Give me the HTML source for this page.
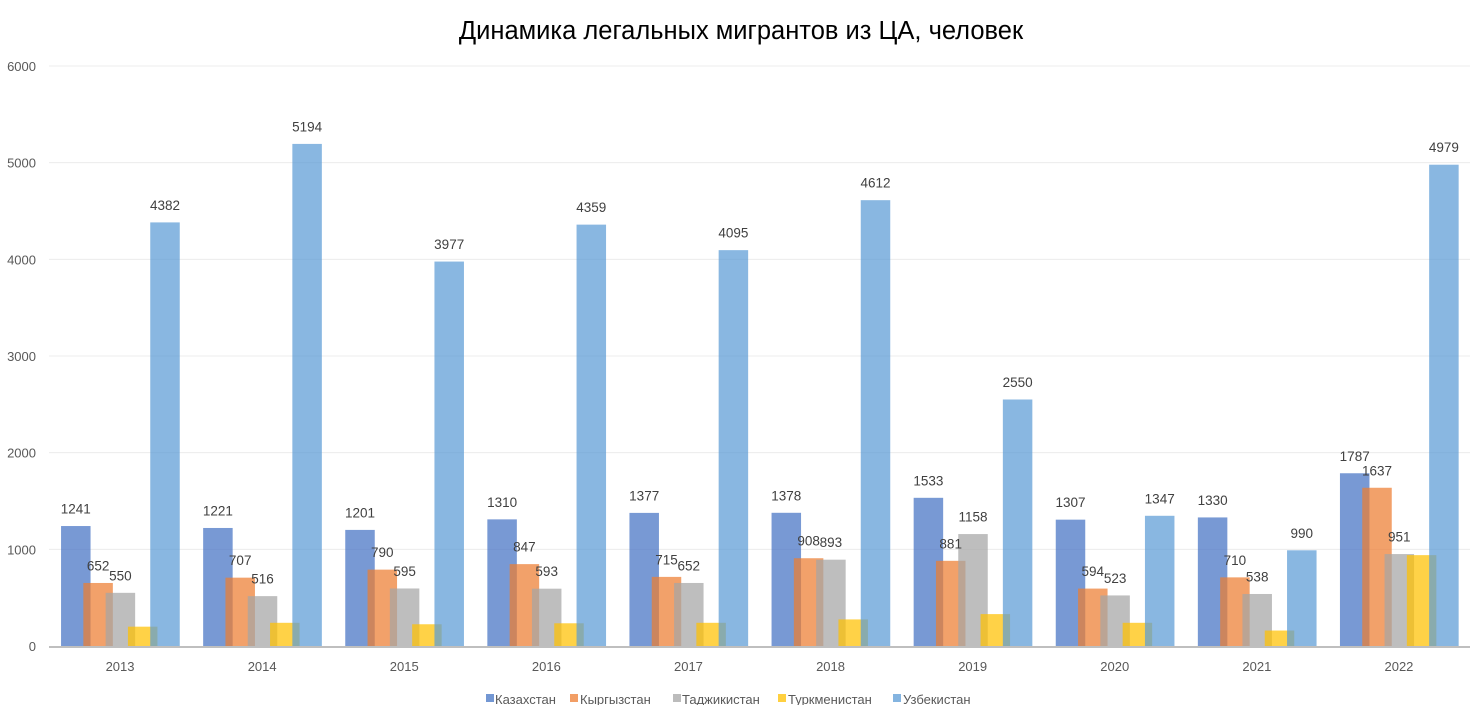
<!DOCTYPE html>
<html><head><meta charset="utf-8"><style>
html,body{margin:0;padding:0;background:#fff;}
svg{display:block;font-family:"Liberation Sans","DejaVu Sans",sans-serif;}
</style></head><body>
<svg id="s" width="1482" height="705" xmlns="http://www.w3.org/2000/svg">
<rect width="1482" height="705" fill="#fff"/>
<text x="741" y="39" text-anchor="middle" font-size="25.5" fill="#000">Динамика легальных мигрантов из ЦА, человек</text>
<g id="grid"></g>
<g id="bars"></g>
<g id="labels" font-size="13.5" fill="#404040" text-anchor="middle"></g>
<g font-size="13" fill="#595959">
<rect x="486" y="694" width="8" height="8" fill="#7397d3"/><text x="495" y="704">Казахстан</text>
<rect x="570" y="694" width="8" height="8" fill="#f29e65"/><text x="580" y="704">Кыргызстан</text>
<rect x="673" y="694" width="8" height="8" fill="#bcbcbc"/><text x="682" y="704">Таджикистан</text>
<rect x="778" y="694" width="8" height="8" fill="#ffd040"/><text x="788" y="704">Туркменистан</text>
<rect x="893" y="694" width="8" height="8" fill="#84b4e0"/><text x="903" y="704">Узбекистан</text>
</g>
</svg>
<script>
var NS="http://www.w3.org/2000/svg";
function el(p,t,a,txt){var e=document.createElementNS(NS,t);for(var k in a)e.setAttribute(k,a[k]);if(txt!==undefined)e.textContent=txt;document.getElementById(p).appendChild(e);}
var y0=646,sc=580/6000;
for(var i=0;i<=6;i++){var y=y0-i*1000*sc;
 if(i>0)el("grid","line",{x1:49,x2:1470,y1:y,y2:y,stroke:"#ececec","stroke-width":1});
 el("grid","text",{x:36,y:y+5,"text-anchor":"end","font-size":13,fill:"#595959"},String(i*1000));}
var years=[2013,2014,2015,2016,2017,2018,2019,2020,2021,2022];
var d=[[1241,1221,1201,1310,1377,1378,1533,1307,1330,1787],
[652,707,790,847,715,908,881,594,710,1637],
[550,516,595,593,652,893,1158,523,538,951],
[200,240,225,235,240,275,330,240,160,940],
[4382,5194,3977,4359,4095,4612,2550,1347,990,4979]];
var cols=["#4472C4","#ED7D31","#A5A5A5","#FFC000","#5B9BD5"];
var cw=142.1;
for(var c=0;c<10;c++){var cx=49+cw*(c+0.5);
 el("grid","text",{x:cx,y:671,"text-anchor":"middle","font-size":13,fill:"#595959"},String(years[c]));
 for(var s=0;s<5;s++){var x=cx-59+s*22.3,v=d[s][c],h=v*sc;
  el("bars","rect",{x:x,y:y0-h,width:29.5,height:h,fill:cols[s],"fill-opacity":0.72});
  if(s!=3)el("labels","text",{x:x+14.75,y:y0-h-12.5},String(v));}}
el("grid","line",{x1:49,x2:1470,y1:y0+1,y2:y0+1,stroke:"#bfbfbf","stroke-width":2});
document.getElementById("s").appendChild(document.getElementById("grid").lastChild);
</script>
</body></html>
